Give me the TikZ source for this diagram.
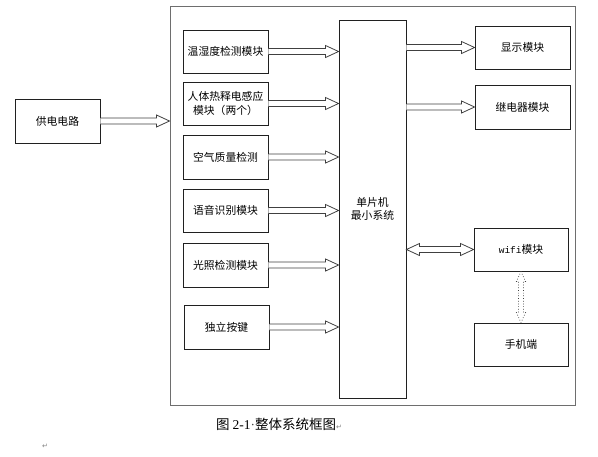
\documentclass[tikz,border=0pt]{standalone}
\usepackage{fontspec}
\setmainfont{Noto Sans CJK SC}
\newfontfamily\latinserif{Liberation Serif}
\newfontfamily\monofnt{Liberation Mono}
\newfontfamily\symfnt{DejaVu Sans}
\usetikzlibrary{calc}
\definecolor{boxline}{HTML}{202020}
\definecolor{frameline}{HTML}{6E6E6E}
\definecolor{arrline}{HTML}{404040}
\tikzset{
  box/.style={draw=boxline, line width=0.9pt, inner sep=0pt, align=center,
    font=\fontsize{10.8}{13.5}\selectfont},
  frame/.style={draw=frameline, line width=1pt, inner sep=0pt},
  arr/.style={draw=arrline, line width=0.8pt, fill=white},
  dotarr/.style={draw=arrline, line width=0.7pt, dotted, fill=white},
}
\newcommand{\harrow}[2]{\draw[arr] let \p1=(#1), \p2=(#2) in
  (\x1,\y1+3pt) -- (\x2-13pt,\y1+3pt) -- (\x2-13pt,\y1+6pt) -- (\x2,\y1)
  -- (\x2-13pt,\y1-6pt) -- (\x2-13pt,\y1-3pt) -- (\x1,\y1-3pt);}
\newcommand{\hdarrow}[2]{\draw[arr] let \p1=(#1), \p2=(#2) in
  (\x1,\y1) -- (\x1+13pt,\y1+6pt) -- (\x1+13pt,\y1+3pt) -- (\x2-13pt,\y1+3pt)
  -- (\x2-13pt,\y1+6pt) -- (\x2,\y1) -- (\x2-13pt,\y1-6pt) -- (\x2-13pt,\y1-3pt)
  -- (\x1+13pt,\y1-3pt) -- (\x1+13pt,\y1-6pt) -- cycle;}
\newcommand{\vdarrow}[2]{\draw[dotarr] let \p1=(#1), \p2=(#2) in
  (\x1,\y1) -- (\x1+4.5pt,\y1-10pt) -- (\x1+2.5pt,\y1-10pt) -- (\x1+2.5pt,\y2+10pt)
  -- (\x1+4.5pt,\y2+10pt) -- (\x1,\y2) -- (\x1-4.5pt,\y2+10pt) -- (\x1-2.5pt,\y2+10pt)
  -- (\x1-2.5pt,\y1-10pt) -- (\x1-4.5pt,\y1-10pt) -- cycle;}
\begin{document}
\begin{tikzpicture}[x=1pt,y=-1pt]
\useasboundingbox (0,0) rectangle (598,456);
% outer frame
\node[frame, minimum width=405pt, minimum height=399pt] (frame) at (372.5,205.5) {};
% power
\node[box, minimum width=85pt, minimum height=44pt] (pwr) at (57.5,121) {供电电路};
% left modules
\node[box, minimum width=85pt, minimum height=43pt] (th) at (225.5,51.5) {温湿度检测模块};
\node[box, minimum width=85pt, minimum height=43pt] (pir) at (225.5,103.5) {人体热释电感应\\模块（两个）};
\node[box, minimum width=85pt, minimum height=44pt] (air) at (225.5,157) {空气质量检测};
\node[box, minimum width=85pt, minimum height=43pt] (voice) at (225.5,210.5) {语音识别模块};
\node[box, minimum width=85pt, minimum height=44pt] (light) at (225.5,265) {光照检测模块};
\node[box, minimum width=85pt, minimum height=44pt] (key) at (226.5,327) {独立按键};
% MCU
\node[box, minimum width=67pt, minimum height=378pt] (mcu) at (372.5,209) {单片机\\最小系统};
% right modules
\node[box, minimum width=95pt, minimum height=43pt] (disp) at (522.5,47.5) {显示模块};
\node[box, minimum width=95pt, minimum height=44pt] (relay) at (522.5,107) {继电器模块};
\node[box, minimum width=94pt, minimum height=43pt] (wifi) at (521,249.5) {{\monofnt\fontsize{9.5}{12}\selectfont wifi}模块};
\node[box, minimum width=94pt, minimum height=43pt] (phone) at (521,344.5) {手机端};
% arrows
\harrow{pwr.east}{frame.west |- pwr.east}
\harrow{th.east}{mcu.west |- th.east}
\harrow{pir.east}{mcu.west |- pir.east}
\harrow{air.east}{mcu.west |- air.east}
\harrow{voice.east}{mcu.west |- voice.east}
\harrow{light.east}{mcu.west |- light.east}
\harrow{key.east}{mcu.west |- key.east}
\harrow{mcu.east |- disp.west}{disp.west}
\harrow{mcu.east |- relay.west}{relay.west}
\hdarrow{mcu.east |- wifi.west}{wifi.west}
\vdarrow{wifi.south}{phone.north}
% caption
\node[inner sep=0pt, anchor=west, font=\fontsize{13.5}{15}\selectfont] (cap) at (216,424)
  {图 {\latinserif\fontsize{13.5}{15}\selectfont 2-1{\color{darkgray}·}}整体系统框图{\symfnt\color{gray}\fontsize{7}{8}\selectfont ↵}};
\node[inner sep=0pt, font=\symfnt\fontsize{7}{8}\selectfont, text=gray] (pm) at (45,446) {↵};
\end{tikzpicture}
\end{document}
